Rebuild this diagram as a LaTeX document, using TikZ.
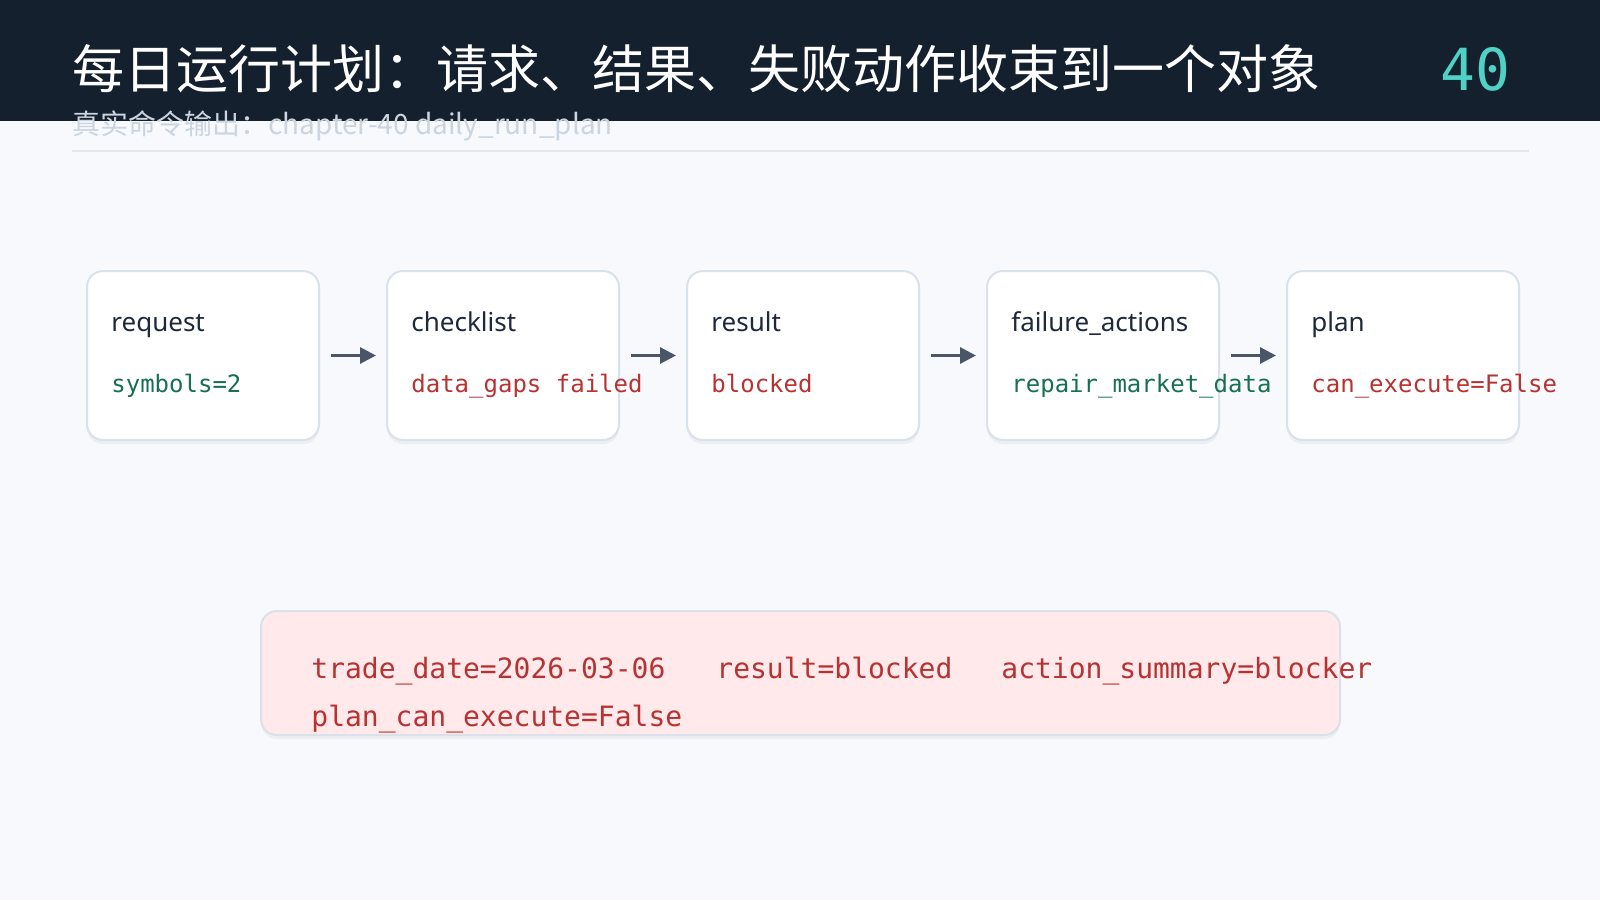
\documentclass[tikz,border=0pt]{standalone}
\usepackage{fontspec}
\setmainfont{Noto Sans}
\setmonofont{DejaVu Sans Mono}
\newfontfamily\cjk{Noto Sans CJK SC}
\usetikzlibrary{positioning,shadows,arrows.meta}
\definecolor{headbg}{HTML}{15202E}
\definecolor{pagebg}{HTML}{F7F9FC}
\definecolor{teal}{HTML}{4FD1C5}
\definecolor{subgray}{HTML}{CBD5E1}
\definecolor{rulegray}{HTML}{E2E8F0}
\definecolor{boxline}{HTML}{D9E1EA}
\definecolor{ink}{HTML}{1E293B}
\definecolor{okgreen}{HTML}{17704F}
\definecolor{badred}{HTML}{B83232}
\definecolor{arrowgray}{HTML}{4A5568}
\definecolor{pinkbg}{HTML}{FFE9EA}
\tikzset{
  stagebox/.style={draw=boxline, line width=1pt, fill=white, rounded corners=8pt,
    minimum width=116pt, minimum height=84.5pt, inner sep=0pt,
    drop shadow={shadow xshift=0pt, shadow yshift=-2pt, opacity=0.07, fill=black!60}},
  stagename/.style={anchor=base west, inner sep=0pt, text=ink, font=\fontsize{13}{15}\selectfont},
  stageval/.style={anchor=base west, inner sep=0pt, font=\ttfamily\fontsize{12}{14}\selectfont},
  flow/.style={draw=arrowgray, line width=1.5pt, -{Triangle[length=8pt,width=8pt]}},
}
\begin{document}
\begin{tikzpicture}[x=0.5pt,y=-0.5pt]
\useasboundingbox (0,0) rectangle (1600,900);
\fill[pagebg] (0,0) rectangle (1600,900);
\fill[headbg] (0,0) rectangle (1600,121);

% header
\node (title) [anchor=base west, inner sep=0pt, text=white, font=\cjk\fontsize{26}{30}\selectfont] at (72,88) {每日运行计划：请求、结果、失败动作收束到一个对象};
\node (num) [anchor=base east, inner sep=0pt, text=teal, font=\ttfamily\fontsize{29}{32}\selectfont] at (1511,90) {40};
\node (sub) [anchor=base west, inner sep=0pt, text=subgray, font=\cjk\fontsize{14}{16}\selectfont] at (72,134) {真实命令输出：chapter-40 daily\_run\_plan};
\draw[rulegray, line width=1pt] (72,151) -- (1529,151);

% stages
\foreach \i/\nm/\val/\col [count=\k] in {
  0/request/symbols=2/okgreen,
  1/checklist/data\_gaps failed/badred,
  2/result/blocked/badred,
  3/failure\_actions/repair\_market\_data/okgreen,
  4/plan/can\_execute=False/badred}{
  \node (s\k) [stagebox] at (203+300*\i,355.5) {};
  \node [stagename] at (111+300*\i,331) {\nm};
  \node [stageval, text=\col] at (111+300*\i,392) {\val};
}
\foreach \a/\b in {1/2,2/3,3/4,4/5}
  \draw[flow] ([xshift=5.5pt]s\a.east) -- ([xshift=-5pt]s\b.west);

% summary
\node (summary) [draw=boxline, line width=1pt, fill=pinkbg, rounded corners=8pt,
  minimum width=539.5pt, minimum height=62pt, inner sep=0pt,
  drop shadow={shadow xshift=0pt, shadow yshift=-2pt, opacity=0.07, fill=black!60}] at (800.5,673) {};
\node [stageval, text=badred, font=\ttfamily\fontsize{14}{16}\selectfont] at (311,678) {trade\_date=2026-03-06};
\node [stageval, text=badred, font=\ttfamily\fontsize{14}{16}\selectfont] at (716,678) {result=blocked};
\node [stageval, text=badred, font=\ttfamily\fontsize{14}{16}\selectfont] at (1001,678) {action\_summary=blocker};
\node [stageval, text=badred, font=\ttfamily\fontsize{14}{16}\selectfont] at (311,726) {plan\_can\_execute=False};
\end{tikzpicture}
\end{document}
